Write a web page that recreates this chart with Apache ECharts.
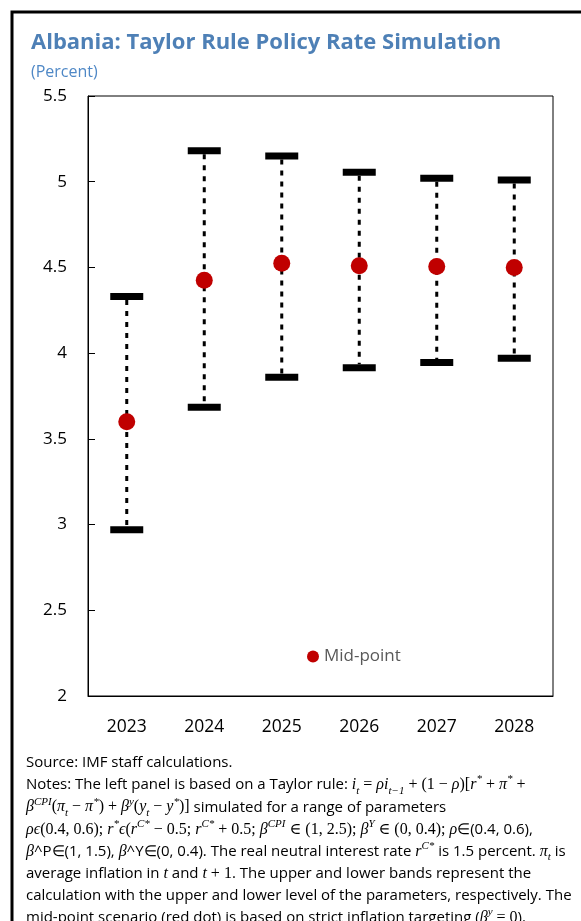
<!DOCTYPE html>
<html>
<head>
<meta charset="utf-8">
<script src="https://cdn.jsdelivr.net/npm/echarts@6/dist/echarts.min.js"></script>
<style>
  html, body { margin: 0; padding: 0; background: #fff; }
  #chart { width: 581px; height: 921px; }
</style>
</head>
<body>
<div id="chart"></div>
<script>
// Policy rate simulation bands, in percent
const years = ['2023', '2024', '2025', '2026', '2027', '2028'];
const upperBand = [4.33, 5.18, 5.15, 5.055, 5.02, 5.01];
const lowerBand = [2.97, 3.685, 3.86, 3.915, 3.945, 3.97];
const midPoint = [3.60, 4.425, 4.525, 4.51, 4.505, 4.50];

const SANS = '"Open Sans", "Noto Sans", sans-serif';
const MATH = '"Liberation Serif", "DejaVu Serif", serif';
const BLUE = '#4E80B6';

// Footnote lines as [style, text] tokens (n: body text, m: math italic, r: math upright)
const noteLines = [
  [['n', 'Source: IMF staff calculations.']],
  [['n', 'Notes: The left panel is based on a Taylor rule: '], ['m', 'i'], ['sub', 't'], ['r', ' = '], ['m', 'ρi'], ['sub', 't−1'], ['r', ' + (1 − '], ['m', 'ρ'], ['r', ')['], ['m', 'r'], ['sup', '*'], ['r', ' + '], ['m', 'π'], ['sup', '*'], ['r', ' +']],
  [['m', 'β'], ['sup', 'CPI'], ['r', '('], ['m', 'π'], ['sub', 't'], ['r', ' − '], ['m', 'π'], ['sup', '*'], ['r', ') + '], ['m', 'β'], ['sup', 'y'], ['r', '('], ['m', 'y'], ['sub', 't'], ['r', ' − '], ['m', 'y'], ['sup', '*'], ['r', ')]'], ['n', ' simulated for a range of parameters']],
  [['m', 'ρϵ'], ['r', '(0.4, 0.6); '], ['m', 'r'], ['sup', '*'], ['m', 'ϵ'], ['r', '('], ['m', 'r'], ['sup', 'C*'], ['r', ' − 0.5; '], ['m', 'r'], ['sup', 'C*'], ['r', ' + 0.5; '], ['m', 'β'], ['sup', 'CPI'], ['r', ' ∈ (1, 2.5); '], ['m', 'β'], ['sup', 'Y'], ['r', ' ∈ (0, 0.4); '], ['m', 'ρ'], ['n', '∈(0.4, 0.6),']],
  [['m', 'β'], ['n', '^P∈(1, 1.5), '], ['m', 'β'], ['n', '^Y∈(0, 0.4). The real neutral interest rate '], ['m', 'r'], ['sup', 'C*'], ['n', ' is 1.5 percent. '], ['m', 'π'], ['sub', 't'], ['n', ' is']],
  [['n', 'average inflation in '], ['m', 't'], ['n', ' and '], ['m', 't'], ['r', ' + 1'], ['n', '. The upper and lower bands represent the']],
  [['n', 'calculation with the upper and lower level of the parameters, respectively. The']],
  [['n', 'mid-point scenario (red dot) is based on strict inflation targeting ('], ['m', 'β'], ['sup', 'y'], ['r', ' = 0'], ['n', ').']]
];
const noteText = noteLines.map(line => line.map(([s, t]) => '{' + s + '|' + t + '}').join('')).join('\n');

const chart = echarts.init(document.getElementById('chart'));

chart.setOption({
  backgroundColor: '#fff',
  animation: false,
  title: [
    {
      text: 'Albania: Taylor Rule Policy Rate Simulation',
      left: 31, top: 32, padding: 0,
      textStyle: { fontFamily: SANS, fontSize: 22, fontWeight: 'bold', color: BLUE }
    },
    {
      text: '(Percent)',
      left: 31, top: 64, padding: 0,
      textStyle: { fontFamily: SANS, fontSize: 16, fontWeight: 'normal', color: '#4F88C6' }
    }
  ],
  legend: {
    data: ['Mid-point'],
    left: 302, top: 643,
    icon: 'circle',
    itemWidth: 12, itemHeight: 12,
    itemGap: 6,
    textStyle: { fontFamily: SANS, fontSize: 17, color: '#595959' }
  },
  grid: {
    left: 88, right: 28, top: 96, bottom: 225,
    show: true, borderColor: '#000', borderWidth: 1
  },
  xAxis: {
    type: 'category',
    data: years,
    boundaryGap: true,
    axisLine: { lineStyle: { color: '#000', width: 1 } },
    axisTick: { inside: true, length: 6, lineStyle: { color: '#000' } },
    axisLabel: { fontFamily: SANS, fontSize: 17.5, color: '#000', margin: 22 },
    splitLine: { show: false }
  },
  yAxis: {
    type: 'value',
    min: 2, max: 5.5, interval: 0.5,
    axisLine: { show: true, lineStyle: { color: '#000', width: 1 } },
    axisTick: { show: true, inside: true, length: 7, lineStyle: { color: '#000' } },
    axisLabel: { fontFamily: SANS, fontSize: 17, color: '#000', margin: 21 },
    splitLine: { show: false }
  },
  series: [
    {
      name: 'Range',
      type: 'custom',
      data: years.map((y, i) => [i, upperBand[i], lowerBand[i]]),
      encode: { x: 0, y: [1, 2] },
      renderItem: function (params, api) {
        const top = api.coord([api.value(0), api.value(1)]);
        const bot = api.coord([api.value(0), api.value(2)]);
        const w = 33, h = 7;
        return {
          type: 'group',
          children: [
            {
              type: 'line',
              shape: { x1: top[0], y1: top[1] + h / 2, x2: bot[0], y2: bot[1] - h / 2 },
              style: { stroke: '#000', lineWidth: 3, lineDash: [5, 6] }
            },
            {
              type: 'rect',
              shape: { x: top[0] - w / 2, y: top[1] - h / 2, width: w, height: h },
              style: { fill: '#000' }
            },
            {
              type: 'rect',
              shape: { x: bot[0] - w / 2, y: bot[1] - h / 2, width: w, height: h },
              style: { fill: '#000' }
            }
          ]
        };
      },
      z: 2
    },
    {
      name: 'Mid-point',
      type: 'scatter',
      data: midPoint,
      symbol: 'circle',
      symbolSize: 17,
      itemStyle: { color: '#C00000', opacity: 1 },
      z: 3
    }
  ],
  graphic: [
    {
      type: 'rect',
      shape: { x: 12, y: 12, width: 572, height: 914 },
      style: { fill: 'none', stroke: '#000', lineWidth: 3 },
      silent: true
    },
    {
      type: 'text',
      x: 26, y: 752,
      style: {
        text: noteText,
        fontFamily: SANS, fontSize: 15, fill: '#000',
        verticalAlign: 'top',
        rich: {
          n: { fontFamily: SANS, fontSize: 15, lineHeight: 22.1, fill: '#000' },
          m: { fontFamily: MATH, fontSize: 16, fontStyle: 'italic', lineHeight: 22.1, fill: '#000' },
          r: { fontFamily: MATH, fontSize: 16, lineHeight: 22.1, fill: '#000' },
          sup: { fontFamily: MATH, fontSize: 11, fontStyle: 'italic', lineHeight: 14, verticalAlign: 'top', fill: '#000' },
          sub: { fontFamily: MATH, fontSize: 11, fontStyle: 'italic', lineHeight: 10, verticalAlign: 'bottom', fill: '#000' }
        }
      },
      silent: true
    }
  ]
});
</script>
</body>
</html>
